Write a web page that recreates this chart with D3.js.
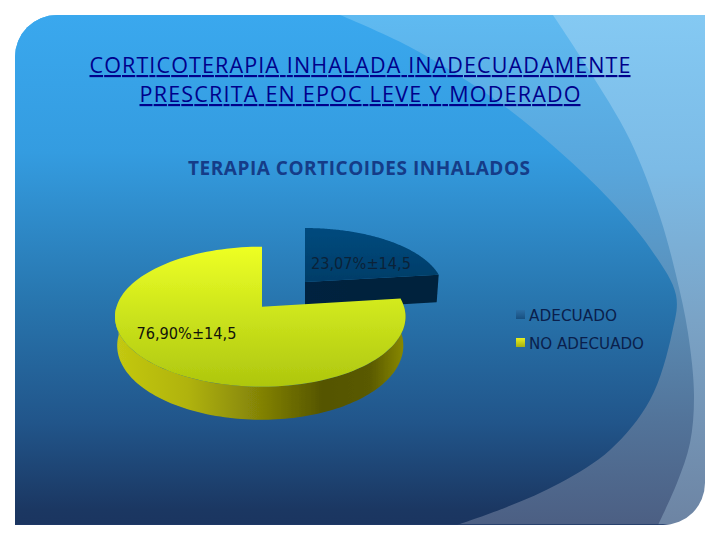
<!DOCTYPE html>
<html><head><meta charset="utf-8">
<script src="https://cdn.jsdelivr.net/npm/d3@7/dist/d3.min.js"></script>
<style>html,body{margin:0;padding:0;background:#fff;overflow:hidden}svg{display:block}text{font-family:"DejaVu Sans",sans-serif}</style>
</head><body><svg id="c" width="720" height="540"></svg>
<script>
const titleLines = ["CORTICOTERAPIA INHALADA INADECUADAMENTE", "PRESCRITA EN EPOC LEVE Y MODERADO"];
const chartTitle = "TERAPIA CORTICOIDES INHALADOS";
const categories = ["ADECUADO", "NO ADECUADO"];
const values = [23.07, 76.90];
const valueLabels = ["23,07%±14,5", "76,90%±14,5"];

const svg = d3.select("#c");
const defs = svg.append("defs");
function grad(id, x1, y1, x2, y2, stops) {
  const g = defs.append("linearGradient").attr("id", id).attr("gradientUnits", "userSpaceOnUse")
    .attr("x1", x1).attr("y1", y1).attr("x2", x2).attr("y2", y2);
  stops.forEach(s => g.append("stop").attr("offset", s[0]).attr("stop-color", s[1]));
}
grad("bg1", 0, 15, 0, 525, [[0, "#84c9f3"], [.3, "#7cbbe6"], [.6, "#7aa3c6"], [1, "#6d84a3"]]);
grad("bg2", 0, 15, 0, 525, [[0, "#5fbaf1"], [.3, "#58a6dc"], [.6, "#5a8ab2"], [.8, "#527399"], [1, "#4c5f83"]]);
grad("bg3", 0, 15, 0, 525, [[0, "#3aa8ee"], [.27, "#349ce0"], [.55, "#2877b0"], [.8, "#21558a"], [.97, "#1b3762"], [1, "#1b3560"]]);
grad("yTop", 0, 247, 0, 387, [[0, "#eeff24"], [.5, "#cbe31c"], [1, "#aec60e"]]);
grad("ySide", 115, 0, 405, 0, [[0, "#c4c912"], [.25, "#b0b30c"], [.5, "#838306"], [.72, "#545400"], [.88, "#5a5a00"], [1, "#8a8a06"]]);
grad("bTop", 0, 228, 0, 282, [[0, "#024a7e"], [1, "#013d68"]]);
grad("bSide", 305, 0, 439, 0, [[0, "#00233f"], [1, "#00223c"]]);
grad("lgB", 0, 310, 0, 319, [[0, "#2b6da3"], [1, "#174f80"]]);
grad("lgY", 0, 338, 0, 347, [[0, "#e8f020"], [1, "#a5b010"]]);
defs.append("filter").attr("id", "soft").append("feGaussianBlur").attr("stdDeviation", 0.4);

// slide background
const clip = defs.append("clipPath").attr("id", "slide");
const X0 = 15, X1 = 705, Y0 = 15, Y1 = 525, CR = 42;
const slidePath = `M${X0 + CR},${Y0}H${X1}V${Y1 - CR}A${CR},${CR} 0 0 1 ${X1 - CR},${Y1}H${X0}V${Y0 + CR}A${CR},${CR} 0 0 1 ${X0 + CR},${Y0}Z`;
clip.append("path").attr("d", slidePath);
const bg = svg.append("g").attr("clip-path", "url(#slide)");
bg.append("rect").attr("x", X0).attr("y", Y0).attr("width", X1 - X0).attr("height", Y1 - Y0).attr("fill", "url(#bg1)");
const smooth = d3.line().curve(d3.curveCatmullRom.alpha(0.5));
const edge2 = [[553, 15], [587, 67], [630, 140], [660, 217], [676, 275], [688, 333], [694, 395], [690, 443], [677, 483], [658, 525]];
const edge3 = [[340, 15], [410, 47], [500, 103], [560, 152], [610, 200], [650, 248], [676, 295], [672, 333], [650, 400], [610, 450], [560, 483], [507, 507], [457, 525]];
bg.append("path").attr("d", smooth(edge2) + `L${X0},525L${X0},15Z`).attr("fill", "url(#bg2)");
bg.append("path").attr("d", smooth(edge3) + `L${X0},525L${X0},15Z`).attr("fill", "url(#bg3)");
bg.append("rect").attr("x", X0).attr("y", 524).attr("width", X1 - X0).attr("height", 1.2).attr("fill", "#1f3a68").attr("opacity", .8);

// titles
titleLines.forEach((t, i) => {
  svg.append("text").attr("x", 360).attr("y", [73, 102][i]).attr("text-anchor", "middle")
    .attr("font-size", 21.5).attr("font-weight", 500).style("font-family", "'Open Sans',sans-serif")
    .attr("fill", "#00008b").style("text-decoration", "underline")
    .attr("textLength", [541, 441][i]).attr("lengthAdjust", "spacing").text(t);
});
svg.append("text").attr("x", 359).attr("y", 175).attr("text-anchor", "middle").attr("font-size", 19)
  .attr("font-weight", 700).style("font-family", "'Open Sans',sans-serif").attr("fill", "#153c88").attr("textLength", 342).attr("lengthAdjust", "spacing").text(chartTitle);

// 3D pie: d3.pie angles pushed through a perspective projection
const arcs = d3.pie().sort(null).value(d => d)(values);
const K = 1 / 7;
function project(g, a, r, down) {
  const X = Math.sin(a) * r, Y = Math.cos(a) * r, w = 1 + K * Y;
  const depth = down ? g.D / w : 0, sx = down ? 0.985 : 1;
  const R = X < 0 ? g.RL : g.R;
  return [g.cx + R * sx * X / w, g.cy - g.Ry * Y / w + depth];
}
const line = d3.line();
const samples = (a0, a1) => d3.range(0, 121).map(i => a0 + (a1 - a0) * i / 120);
const geom = [
  { cx: 305, cy: 282, R: 137, RL: 137, Ry: 61.7, D: 28 },
  { cx: 262, cy: 306.7, R: 142, RL: 145.5, Ry: 68.6, D: 28.3 }
];
const pieG = svg.append("g").attr("filter", "url(#soft)");
// blue slice: its radial wall, then its top
{
  const d = arcs[0], g = geom[0];
  pieG.append("path").attr("fill", "url(#bSide)").attr("d", line([
    project(g, d.endAngle, 0), project(g, d.endAngle, 1), project(g, d.endAngle, 1, true), project(g, d.endAngle, 0, true)
  ]) + "Z");
  pieG.append("path").attr("fill", "url(#bTop)").attr("d", line([project(g, 0, 0), ...samples(d.startAngle, d.endAngle).map(a => project(g, a, 1))]) + "Z");
}
// yellow slice: outer wall, then top
{
  const d = arcs[1], g = geom[1];
  const a0 = Math.max(d.startAngle, Math.PI / 2 - 0.02), a1 = 3 * Math.PI / 2;
  const s = samples(a0, a1);
  pieG.append("path").attr("fill", "url(#ySide)").attr("d", line([...s.map(a => project(g, a, 1)), ...s.slice().reverse().map(a => project(g, a, 1, true))]) + "Z");
  pieG.append("path").attr("fill", "url(#yTop)").attr("d", line([project(g, 0, 0), ...samples(d.startAngle, d.endAngle).map(a => project(g, a, 1))]) + "Z");
}
// value labels
[[361, 269, "#0b2238"], [186.5, 339, "#12140a"]].forEach((p, i) => {
  svg.append("text").attr("x", p[0]).attr("y", p[1]).attr("text-anchor", "middle").attr("font-size", 15.5)
    .attr("fill", p[2]).attr("textLength", 100).attr("lengthAdjust", "spacingAndGlyphs").text(valueLabels[i]);
});
// legend
categories.forEach((c, i) => {
  const y = 310 + i * 28;
  svg.append("rect").attr("x", 516).attr("y", y).attr("width", 9).attr("height", 9).attr("fill", i ? "url(#lgY)" : "url(#lgB)");
  svg.append("text").attr("x", 529).attr("y", y + 11).attr("font-size", 15.5).attr("fill", "#0a1f4c")
    .attr("textLength", [88, 115][i]).attr("lengthAdjust", "spacingAndGlyphs").text(c);
});
</script></body></html>
